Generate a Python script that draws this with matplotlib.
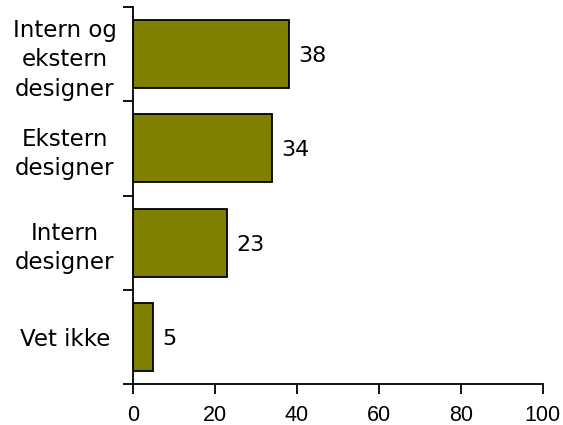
import numpy as np
import matplotlib.pyplot as plt

categories = ["Intern og\nekstern\ndesigner", "Ekstern\ndesigner", "Intern\ndesigner", "Vet ikke"]
values = [38, 34, 23, 5]
xticks = [0, 20, 40, 60, 80, 100]

fig = plt.figure(figsize=(5.63, 4.25), dpi=100)
ax = fig.add_axes([0.236, 0.0965, 0.728, 0.887])

pos = np.arange(len(categories))
ax.barh(pos, values, height=0.72, color="#808000", edgecolor="black", linewidth=1.3)

for p, v in zip(pos, values):
    ax.text(v + 2.3, p + 0.02, str(v), va="center", ha="left", fontsize=16)

ax.set_ylim(len(categories) - 0.5, -0.5)
ax.set_xlim(0, 100)
ax.set_xticks(xticks)
ax.set_xticklabels([str(t) for t in xticks], family="Liberation Sans", fontsize=15.5)
ax.set_yticks(pos)
ax.set_yticklabels(categories, fontsize=16.5, ha="center", linespacing=1.35)
ax.tick_params(axis="y", length=0, pad=49)
ax.set_yticks(np.arange(len(categories) + 1) - 0.5, minor=True)
ax.tick_params(axis="y", which="minor", length=7, width=1.3)
ax.tick_params(axis="x", length=7, width=1.3, pad=8)

for s in ["top", "right"]:
    ax.spines[s].set_visible(False)
for s in ["left", "bottom"]:
    ax.spines[s].set_linewidth(1.3)

fig.savefig("out.png", dpi=100)
